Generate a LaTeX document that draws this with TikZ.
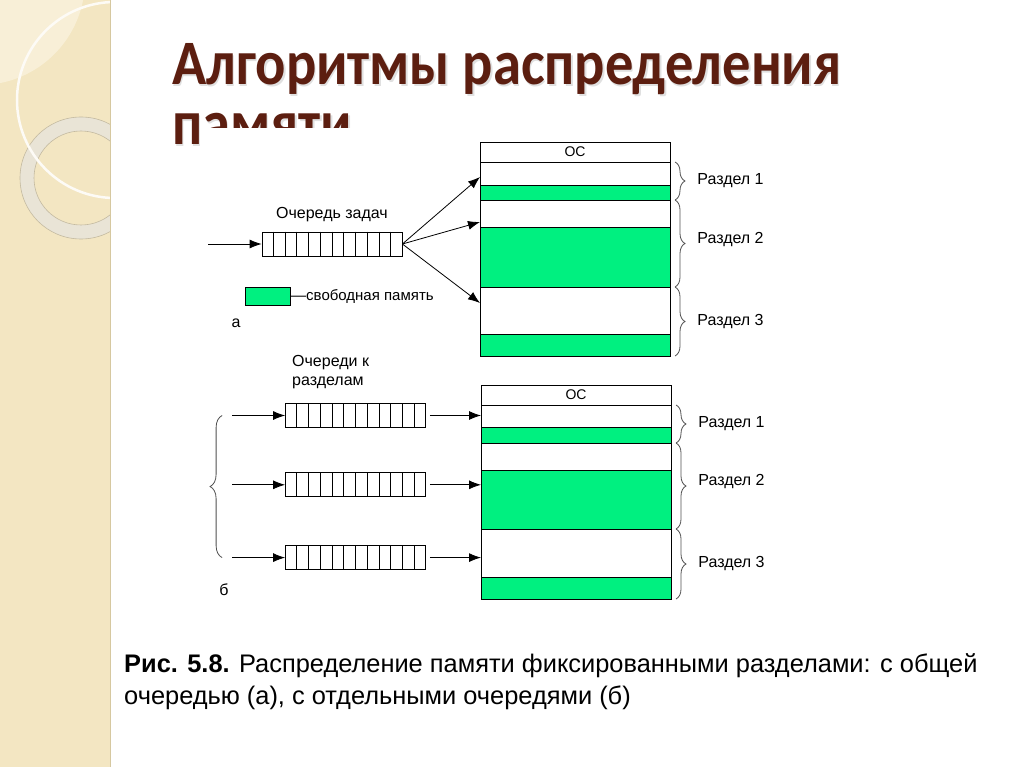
\documentclass[tikz,border=0pt]{standalone}
\usepackage{fontspec}
\setmainfont{Liberation Sans}
\newfontfamily\titlefamily{Carlito}
\usepackage{tikz}
\usetikzlibrary{positioning, calc, arrows.meta, decorations.pathreplacing}

\definecolor{stripbeige}{RGB}{243,230,194}
\definecolor{striplight}{RGB}{248,239,215}
\definecolor{stripedge}{RGB}{214,200,160}
\definecolor{ringgrey}{RGB}{233,228,214}
\definecolor{ringedge}{RGB}{196,186,160}
\definecolor{titlebrown}{RGB}{92,30,16}
\definecolor{freegreen}{RGB}{0,240,128}
\definecolor{bracegrey}{RGB}{80,80,80}

\begin{document}
\begin{tikzpicture}[
    x=1pt, y=-1pt,
    memrow/.style={
        rectangle, draw=black, line width=0.8pt, fill=white,
        minimum width=190pt, inner sep=0pt, outer sep=0pt,
        font=\fontsize{14}{16}\selectfont
    },
    freerow/.style={memrow, fill=freegreen},
    queue/.style={
        rectangle, draw=black, line width=0.8pt, fill=white,
        minimum width=140pt, minimum height=24pt, inner sep=0pt
    },
    line/.style={
        draw, line width=0.8pt, -{Latex[length=12pt, width=9pt]}
    },
    part/.style={
        draw=bracegrey, line width=0.8pt, decorate,
        decoration={brace, amplitude=10pt}
    },
    lbl/.style={inner sep=1pt, font=\fontsize{16}{19}\selectfont},
    titletext/.style={
        anchor=base west, inner sep=0pt, text=titlebrown, yscale=1.12,
        font=\titlefamily\bfseries\fontsize{56.5}{64}\selectfont
    },
    titleshadow/.style={titletext, text=black!12}
]

% Slide background
\useasboundingbox (0,0) rectangle (1024,767);
\fill[white] (0,0) rectangle (1024,767);
\fill[stripbeige] (0,0) rectangle (110,767);
\begin{scope}
    \clip (0,0) rectangle (110,767);
    \fill[striplight] (-20,-20) circle (105);
    \draw[ringgrey, line width=14pt] (81,178) circle (54);
    \draw[ringedge, line width=0.6pt] (81,178) circle (61);
    \draw[ringedge, line width=0.6pt] (81,178) circle (47);
    \draw[white!85!stripbeige, line width=2.5pt] (115,100) circle (98);
\end{scope}
\draw[stripedge, line width=1pt] (110,0) -- (110,767);

% Title
\node[titleshadow] at (173.5,86.5) {Алгоритмы распределения};
\node[titleshadow] at (173.5,146.5) {памяти};
\node[titletext] (title) at (172,85) {Алгоритмы распределения};
\node[titletext] (title2) at (172,145) {памяти};

% Picture area lies over the second title line
\fill[white] (204,128) rectangle (790,615);

% (a) common queue: memory
\node[memrow, minimum height=20pt] (osA) at (575,152) {ОС};
\node[memrow, minimum height=23pt, below=0pt of osA] (taskA1) {};
\node[freerow, minimum height=15pt, below=0pt of taskA1] (freeA1) {};
\node[memrow, minimum height=27pt, below=0pt of freeA1] (taskA2) {};
\node[freerow, minimum height=60pt, below=0pt of taskA2] (freeA2) {};
\node[memrow, minimum height=47pt, below=0pt of freeA2] (taskA3) {};
\node[freerow, minimum height=22pt, below=0pt of taskA3] (freeA3) {};

\draw[part] ([xshift=5pt]osA.south east) -- ([xshift=5pt]freeA1.south east)
    node[lbl, midway, right=21pt] (partA1) {Раздел 1};
\draw[part] ([xshift=5pt]freeA1.south east) -- ([xshift=5pt]freeA2.south east)
    node[lbl, midway, right=21pt, yshift=4pt] (partA2) {Раздел 2};
\draw[part] ([xshift=5pt]freeA2.south east) -- ([xshift=5pt]freeA3.south east)
    node[lbl, midway, right=21pt] (partA3) {Раздел 3};

% (a) common queue
\node[queue] (queueA) at (332,244) {};
\node[lbl, above=9pt of queueA] (queueAtext) {Очередь задач};
\coordinate (srcA) at (208,244);

\draw[line] (srcA) -- (queueA.west);
\draw[line] (queueA.east) -- ([yshift=-3.5pt]taskA1.west);
\draw[line] (queueA.east) -- ([yshift=-8.5pt]taskA2.west);
\draw[line] (queueA.east) -- ([yshift=7.5pt]taskA3.west);

% legend
\node[freerow, minimum width=45pt, minimum height=18pt] (legend) at (267.5,296) {};
\node[lbl, right=0pt of legend, font=\fontsize{15}{19}\selectfont] (legendtext) {—свободная память};
\node[lbl] (labelA) at (236,323) {а};

% (b) separate queues: memory
\node[memrow, minimum height=20pt] (osB) at (576,395) {ОС};
\node[memrow, minimum height=22pt, below=0pt of osB] (taskB1) {};
\node[freerow, minimum height=16pt, below=0pt of taskB1] (freeB1) {};
\node[memrow, minimum height=27pt, below=0pt of freeB1] (taskB2) {};
\node[freerow, minimum height=59pt, below=0pt of taskB2] (freeB2) {};
\node[memrow, minimum height=48pt, below=0pt of freeB2] (taskB3) {};
\node[freerow, minimum height=22pt, below=0pt of taskB3] (freeB3) {};

\draw[part] ([xshift=5pt]osB.south east) -- ([xshift=5pt]freeB1.south east)
    node[lbl, midway, right=21pt] (partB1) {Раздел 1};
\draw[part] ([xshift=5pt]freeB1.south east) -- ([xshift=5pt]freeB2.south east)
    node[lbl, midway, right=21pt, yshift=4pt] (partB2) {Раздел 2};
\draw[part] ([xshift=5pt]freeB2.south east) -- ([xshift=5pt]freeB3.south east)
    node[lbl, midway, right=21pt] (partB3) {Раздел 3};

% (b) separate queues
\node[lbl, align=left, anchor=north west] (queuesB) at (291,354) {Очереди к\\разделам};
\node[queue] (queueB1) at (355.5,415.5) {};
\node[queue, below=44.5pt of queueB1] (queueB2) {};
\node[queue, below=48pt of queueB2] (queueB3) {};

\coordinate[left=53pt of queueB1] (srcB1);
\coordinate[left=53pt of queueB2] (srcB2);
\coordinate[left=53pt of queueB3] (srcB3);

\draw[line] (srcB1) -- (queueB1.west);
\draw[line] (srcB2) -- (queueB2.west);
\draw[line] (srcB3) -- (queueB3.west);
\draw[line, shorten <=4pt] (queueB1.east) -- (queueB1.east -| osB.west);
\draw[line, shorten <=4pt] (queueB2.east) -- (queueB2.east -| osB.west);
\draw[line, shorten <=4pt] (queueB3.east) -- (queueB3.east -| osB.west);

\draw[part, decoration={brace, amplitude=12pt}] ([xshift=-10pt]srcB3) -- ([xshift=-10pt]srcB1);
\node[lbl] (labelB) at (224,590) {б};

% queue cells
\foreach \q in {queueA, queueB1, queueB2, queueB3}
    \foreach \i in {1,...,11}
        \draw[line width=0.8pt] ($(\q.north west)!\i/12!(\q.north east)$) -- ($(\q.south west)!\i/12!(\q.south east)$);

% Caption
\node[anchor=north west, inner sep=0pt, align=left, font=\fontsize{25.4}{32}\selectfont] (caption) at (124,653)
    {\textbf{Рис. 5.8.} Распределение памяти фиксированными разделами: с общей\\очередью (а), с отдельными очередями (б)};

\end{tikzpicture}
\end{document}
